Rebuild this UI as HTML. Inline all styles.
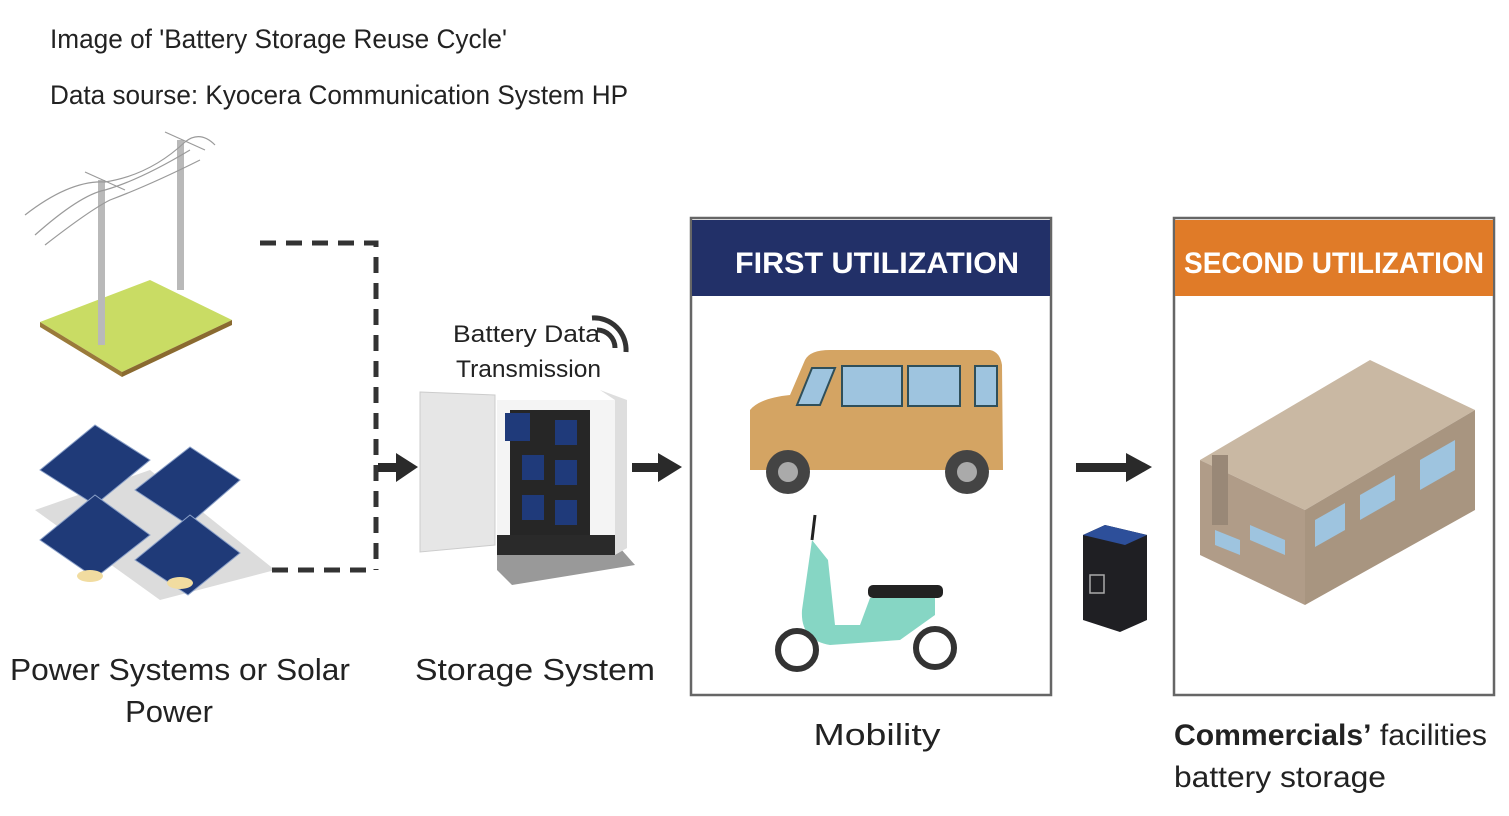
<!DOCTYPE html>
<html><head><meta charset="utf-8"><style>
html,body{margin:0;padding:0;background:#fff;}
svg{display:block;}
text{font-family:"Liberation Sans",sans-serif;}
</style></head><body>
<svg width="1509" height="816" viewBox="0 0 1509 816" xmlns="http://www.w3.org/2000/svg">
<rect width="1509" height="816" fill="#fff"/>
<!-- title -->
<text x="50" y="48" font-size="27" fill="#222" textLength="457" lengthAdjust="spacingAndGlyphs">Image of 'Battery Storage Reuse Cycle'</text>
<text x="50" y="104" font-size="27" fill="#222" textLength="578" lengthAdjust="spacingAndGlyphs">Data sourse: Kyocera Communication System HP</text>

<!-- power poles -->
<polygon points="40,322 150,280 232,320 122,372" fill="#c9dc64"/>
<polygon points="40,322 122,372 122,377 40,327" fill="#9a7a3a"/>
<polygon points="122,372 232,320 232,325 122,377" fill="#8a6a30"/>
<rect x="98" y="180" width="7" height="165" fill="#b9b9b9"/>
<rect x="177" y="140" width="7" height="150" fill="#b9b9b9"/>
<g stroke="#9a9a9a" stroke-width="1.2" fill="none">
<path d="M25,215 Q70,180 105,182 Q150,175 185,142 Q200,130 215,145"/>
<path d="M35,235 Q80,195 105,190 Q140,180 190,150"/>
<path d="M45,245 Q90,210 110,200 Q150,185 200,160"/>
<line x1="85" y1="172" x2="125" y2="190"/><line x1="165" y1="132" x2="205" y2="150"/>
</g>
<!-- solar panels -->
<polygon points="35,510 150,470 275,570 160,600" fill="#dcdcdc"/>
<g fill="#1f3a78" stroke="#8aa0c8" stroke-width="1">
<polygon points="40,470 95,425 150,460 95,505"/>
<polygon points="135,490 190,447 240,480 188,525"/>
<polygon points="40,540 95,495 150,535 95,578"/>
<polygon points="135,560 190,515 240,553 188,595"/>
</g>
<ellipse cx="90" cy="576" rx="13" ry="6" fill="#f1dca0"/>
<ellipse cx="180" cy="583" rx="13" ry="6" fill="#f1dca0"/>

<!-- dashed connector -->
<g stroke="#333" stroke-width="5" stroke-dasharray="16,10" fill="none">
<polyline points="260,243 376,243 376,570"/>
<line x1="272" y1="570" x2="376" y2="570"/>
</g>
<!-- arrows -->
<g fill="#2a2a2a">
<rect x="378" y="463" width="20" height="9"/><polygon points="396,453 418,467 396,482"/>
<rect x="632" y="463" width="28" height="9"/><polygon points="658,453 682,467 658,482"/>
<rect x="1076" y="463" width="52" height="9"/><polygon points="1126,453 1152,467 1126,482"/>
</g>

<!-- storage cabinet -->
<polygon points="497,548 620,548 635,565 512,585 497,570" fill="#999"/>
<rect x="497" y="400" width="118" height="155" fill="#f4f4f4"/>
<polygon points="600,390 627,400 627,548 615,555 615,400" fill="#dedede"/>
<rect x="510" y="410" width="80" height="125" fill="#262626"/>
<rect x="497" y="535" width="118" height="20" fill="#2a2a2a"/>
<polygon points="420,392 495,395 495,545 420,552" fill="#e6e6e6" stroke="#ccc"/>
<g fill="#1f3a7a"><rect x="505" y="413" width="25" height="28"/><rect x="555" y="420" width="22" height="25"/><rect x="522" y="455" width="22" height="25"/><rect x="555" y="460" width="22" height="25"/><rect x="522" y="495" width="22" height="25"/><rect x="555" y="500" width="22" height="25"/></g>
<!-- wifi -->
<g fill="none" stroke="#333" stroke-width="5"><path d="M597,330 a18,18 0 0 1 18,18"/><path d="M592,318 a32,32 0 0 1 34,34"/></g>
<text x="453" y="342" font-size="24" fill="#222" textLength="147" lengthAdjust="spacingAndGlyphs">Battery Data</text>
<text x="456" y="377" font-size="24" fill="#222" textLength="145" lengthAdjust="spacingAndGlyphs">Transmission</text>

<!-- first box -->
<rect x="691" y="218" width="360" height="477" fill="#fff" stroke="#666" stroke-width="2.5"/>
<rect x="692" y="220" width="358" height="76" fill="#223068"/>
<text x="877" y="273" font-size="30" font-weight="bold" fill="#fff" text-anchor="middle" textLength="284" lengthAdjust="spacingAndGlyphs">FIRST UTILIZATION</text>
<!-- van -->
<path d="M750,470 L750,410 Q760,398 790,395 L805,360 Q810,350 830,350 L990,350 Q1000,352 1002,365 L1003,470 Z" fill="#d4a463"/>
<g fill="#9ec4df" stroke="#2f4f5a" stroke-width="2"><polygon points="797,405 812,368 835,368 820,405"/><rect x="842" y="366" width="60" height="40"/><rect x="908" y="366" width="52" height="40"/><rect x="975" y="366" width="22" height="40"/></g>
<g fill="#444"><circle cx="788" cy="472" r="22"/><circle cx="967" cy="472" r="22"/></g>
<g fill="#aaa"><circle cx="788" cy="472" r="10"/><circle cx="967" cy="472" r="10"/></g>
<!-- scooter -->
<path d="M812,540 L802,610 Q800,640 830,645 L900,640 L935,615 L935,595 L870,598 L860,625 L835,625 L828,560 Z" fill="#86d6c4"/>
<rect x="868" y="585" width="75" height="13" rx="5" fill="#222"/>
<line x1="812" y1="540" x2="815" y2="515" stroke="#222" stroke-width="3"/>
<g fill="none" stroke="#333" stroke-width="6"><circle cx="797" cy="650" r="19"/><circle cx="935" cy="648" r="19"/></g>
<text x="877" y="745" font-size="31" fill="#222" text-anchor="middle" textLength="127" lengthAdjust="spacingAndGlyphs">Mobility</text>

<!-- battery -->
<polygon points="1083,535 1105,525 1147,535 1147,620 1120,632 1083,620" fill="#1f1f23"/>
<polygon points="1083,535 1105,525 1147,535 1125,545" fill="#2d4f9a"/>
<rect x="1090" y="575" width="14" height="18" fill="none" stroke="#aaa" stroke-width="1.5"/>

<!-- second box -->
<rect x="1174" y="218" width="320" height="477" fill="#fff" stroke="#666" stroke-width="2.5"/>
<rect x="1175" y="220" width="318" height="76" fill="#e07b28"/>
<text x="1334" y="273" font-size="30" font-weight="bold" fill="#fff" text-anchor="middle" textLength="300" lengthAdjust="spacingAndGlyphs">SECOND UTILIZATION</text>
<!-- building -->
<polygon points="1200,460 1370,360 1475,410 1305,510" fill="#c9b8a3"/>
<polygon points="1200,460 1305,510 1305,605 1200,555" fill="#b09c88"/>
<polygon points="1305,510 1475,410 1475,510 1305,605" fill="#a89580"/>
<rect x="1212" y="455" width="16" height="70" fill="#998877"/>
<g fill="#9ec4df"><polygon points="1315,520 1345,503 1345,530 1315,547"/><polygon points="1360,495 1395,475 1395,500 1360,520"/><polygon points="1420,460 1455,440 1455,470 1420,490"/><polygon points="1215,530 1240,540 1240,555 1215,545"/><polygon points="1250,525 1285,540 1285,555 1250,540"/></g>
<text x="1174" y="745" font-size="30" fill="#222" textLength="313" lengthAdjust="spacingAndGlyphs"><tspan font-weight="bold">Commercials’</tspan> facilities</text>
<text x="1174" y="787" font-size="30" fill="#222" textLength="212" lengthAdjust="spacingAndGlyphs">battery storage</text>

<!-- bottom labels -->
<text x="180" y="680" font-size="31" fill="#222" text-anchor="middle" textLength="340" lengthAdjust="spacingAndGlyphs">Power Systems or Solar</text>
<text x="169" y="722" font-size="31" fill="#222" text-anchor="middle">Power</text>
<text x="535" y="680" font-size="31" fill="#222" text-anchor="middle" textLength="240" lengthAdjust="spacingAndGlyphs">Storage System</text>
</svg>
</body></html>
